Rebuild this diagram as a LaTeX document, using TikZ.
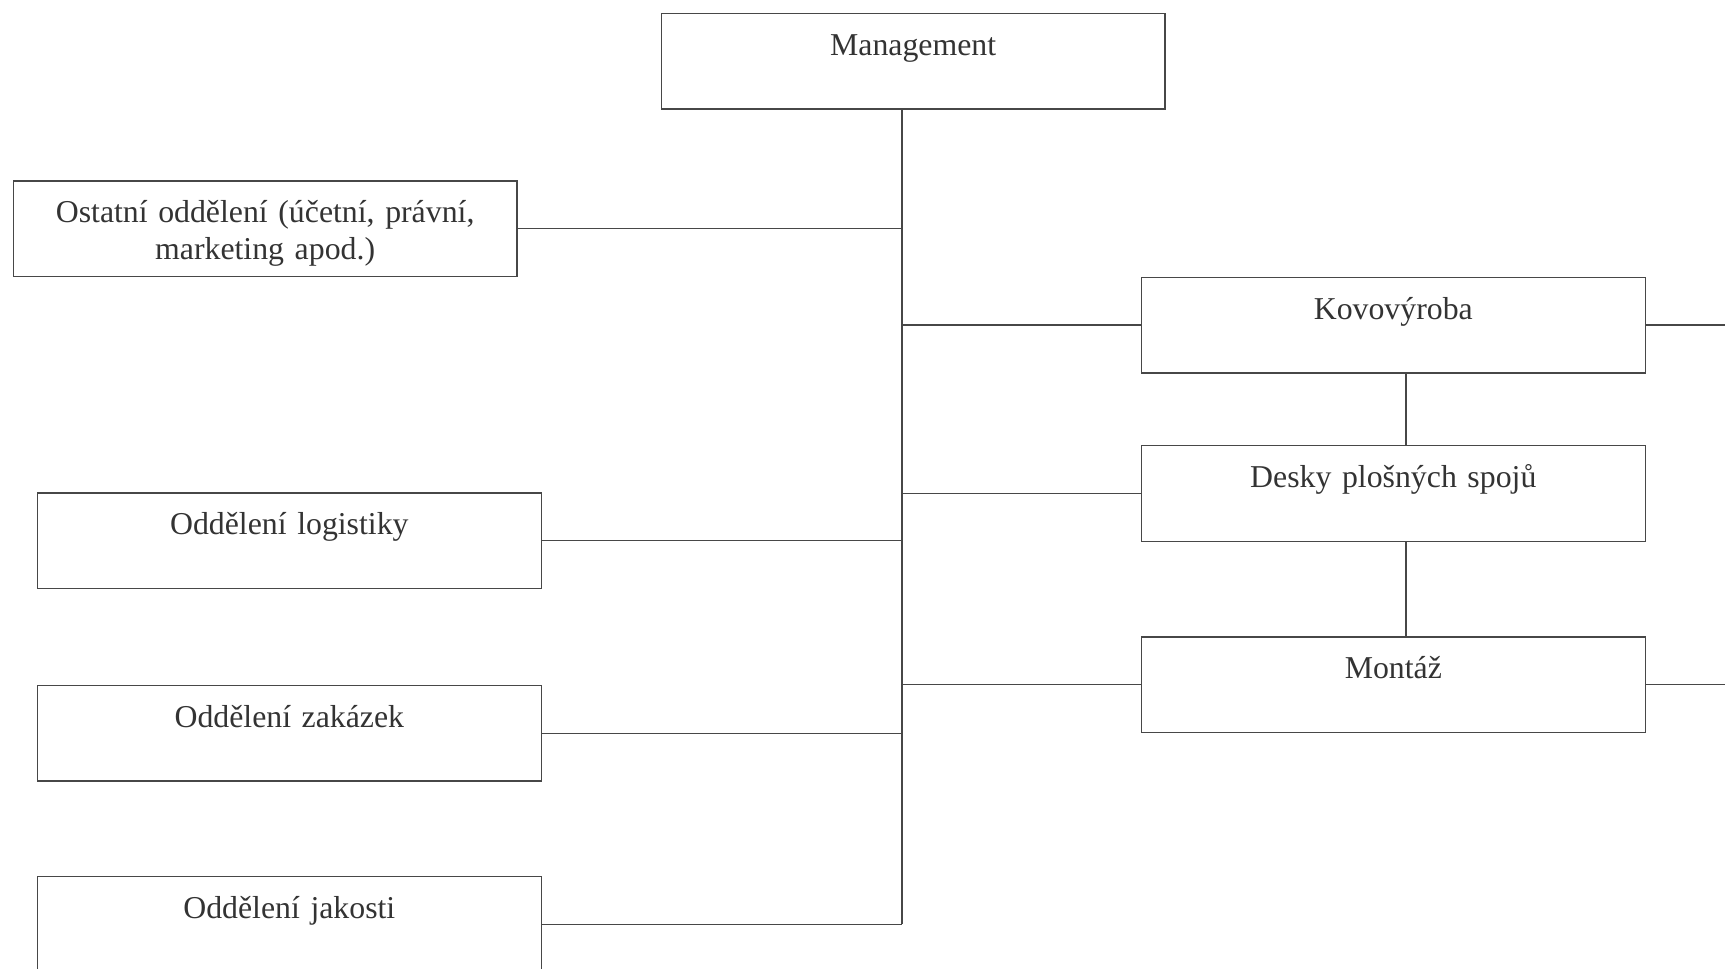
\documentclass[tikz,border=0pt]{standalone}
\usepackage{fontspec}
\setmainfont{Liberation Serif}
\begin{document}
\begin{tikzpicture}[x=1.1001pt,y=-1.1001pt,
  boxstyle/.style={draw=black!72, line width=1.3pt, rectangle, inner sep=0pt,
    minimum width=503.8pt, text width=503.8pt, align=center,
    text height=41.8pt, text depth=53.9pt, text=black!80,
    font=\fontsize{31.8}{36.3}\selectfont},
  link/.style={line width=1.3pt, draw=black!72}]
\clip (0,0) rectangle (1568,880);
\node[boxstyle] (mgmt) at (830,55.5) {Management};
\node[boxstyle] (ost) at (241,208) {Ostatní oddělení (účetní, právní,\\marketing apod.)};
\node[boxstyle] (log) at (263,491.5) {Oddělení logistiky};
\node[boxstyle] (zak) at (263,666.5) {Oddělení zakázek};
\node[boxstyle] (jak) at (263,840.5) {Oddělení jakosti};
\node[boxstyle] (kovo) at (1266.5,295.5) {Kovovýroba};
\node[boxstyle] (desky) at (1266.5,448.5) {Desky plošných spojů};
\node[boxstyle] (mont) at (1266.5,622.5) {Montáž};
\coordinate (ttop) at (820,99);
\coordinate (tbot) at (820,840);
\coordinate (rk) at (1580,295.5);
\coordinate (rm) at (1580,622.5);
\draw[link] (ttop) -- (tbot);
\draw[link] (ost.east) -- (ost.east -| ttop);
\draw[link] (log.east) -- (log.east -| ttop);
\draw[link] (zak.east) -- (zak.east -| ttop);
\draw[link] (jak.east) -- (jak.east -| ttop);
\draw[link] (kovo.west) -- (kovo.west -| ttop);
\draw[link] (desky.west) -- (desky.west -| ttop);
\draw[link] (mont.west) -- (mont.west -| ttop);
\draw[link] ([xshift=12.65pt]kovo.south) -- ([xshift=12.65pt]desky.north);
\draw[link] ([xshift=12.65pt]desky.south) -- ([xshift=12.65pt]mont.north);
\draw[link] (kovo.east) -- (rk);
\draw[link] (mont.east) -- (rm);
\end{tikzpicture}
\end{document}
